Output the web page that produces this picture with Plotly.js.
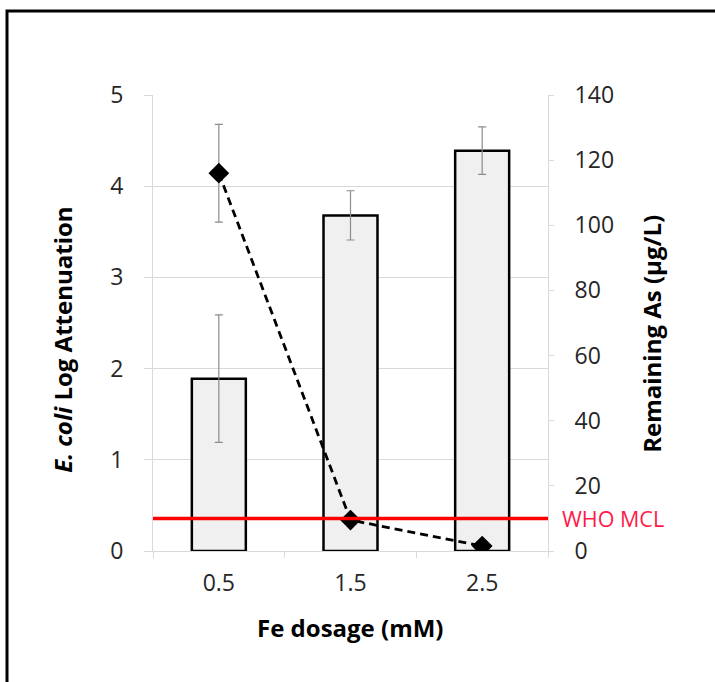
<!DOCTYPE html>
<html>
<head>
<meta charset="utf-8">
<script src="https://cdn.plot.ly/plotly-3.0.1.min.js"></script>
<style>
  html, body { margin: 0; padding: 0; background: #ffffff; }
  #chart { width: 715px; height: 682px; }
</style>
</head>
<body>
<div id="chart"></div>
<script>
// Data
const feDosage = [0.5, 1.5, 2.5];
const feLabels = ['0.5', '1.5', '2.5'];
const logAttenuation = [1.89, 3.68, 4.39];
const logAttenuationErr = [0.70, 0.27, 0.26];
const remainingAs = [116, 9.5, 1.5];
const remainingAsErr = [15, 0, 0];
const whoMcl = 10;
const leftTicks = [0, 1, 2, 3, 4, 5];
const rightTicks = [0, 20, 40, 60, 80, 100, 120, 140];

const FONT = '"Open Sans", "Liberation Sans", sans-serif';
const grid = '#d9d9d9';

const bars = {
  type: 'bar',
  x: feDosage,
  y: logAttenuation,
  width: 0.41,
  marker: { color: '#f0f0f0', line: { color: '#000000', width: 2.5 } },
  error_y: { type: 'data', array: logAttenuationErr, visible: true, color: '#8c8c8c', thickness: 1.2, width: 4 },
  yaxis: 'y',
  showlegend: false,
  hoverinfo: 'skip'
};

const line = {
  type: 'scatter',
  mode: 'lines+markers',
  x: feDosage,
  y: remainingAs,
  yaxis: 'y2',
  line: { color: '#000000', width: 2.8, dash: '8px,5px' },
  marker: { symbol: 'diamond', size: 16, color: '#000000' },
  error_y: { type: 'data', array: remainingAsErr, visible: true, color: '#8c8c8c', thickness: 1.2, width: 4 },
  showlegend: false,
  hoverinfo: 'skip'
};

const layout = {
  width: 715,
  height: 682,
  margin: { l: 153, r: 167, t: 95, b: 131 },
  paper_bgcolor: '#ffffff',
  plot_bgcolor: '#ffffff',
  font: { family: FONT, color: '#262626' },
  showlegend: false,
  xaxis: {
    range: [0, 3],
    tickvals: feDosage,
    ticktext: feLabels,
    ticks: '',
    tickfont: { size: 23, family: FONT, color: '#262626' },
    ticklabelstandoff: 11,
    showgrid: false,
    zeroline: false,
    showline: true,
    linecolor: grid,
    linewidth: 1,
    minor: { tickvals: [0, 1, 2, 3], ticks: 'outside', ticklen: 6, tickcolor: grid, showgrid: false },
    fixedrange: true
  },
  yaxis: {
    range: [0, 5],
    tickvals: leftTicks,
    ticks: 'outside',
    ticklen: 8,
    tickcolor: grid,
    tickfont: { size: 23, family: FONT, color: '#262626' },
    ticklabelstandoff: 16,
    showgrid: true,
    gridcolor: grid,
    gridwidth: 1,
    zeroline: false,
    showline: true,
    linecolor: grid,
    linewidth: 1,
    fixedrange: true
  },
  yaxis2: {
    range: [0, 140],
    tickvals: rightTicks,
    overlaying: 'y',
    side: 'right',
    ticks: 'outside',
    ticklen: 5,
    tickcolor: grid,
    tickfont: { size: 23, family: FONT, color: '#262626' },
    ticklabelstandoff: 16,
    showgrid: false,
    zeroline: false,
    showline: true,
    linecolor: grid,
    linewidth: 1,
    fixedrange: true
  },
  shapes: [
    {
      type: 'line', xref: 'paper', yref: 'y2',
      x0: 0, x1: 1, y0: whoMcl, y1: whoMcl,
      line: { color: '#ff0000', width: 3.5 }
    },
    {
      type: 'rect', xref: 'paper', yref: 'paper',
      x0: -0.3696, x1: 2, y0: 1.184, y1: -1,
      line: { color: '#000000', width: 3 },
      fillcolor: 'rgba(0,0,0,0)'
    }
  ],
  annotations: [
    {
      xref: 'paper', yref: 'paper', x: 0.5, y: -0.168,
      xanchor: 'center', yanchor: 'middle', showarrow: false,
      text: '<b>Fe dosage (mM)</b>',
      font: { size: 24, family: FONT, color: '#000000' }
    },
    {
      xref: 'paper', yref: 'paper', x: -0.228, y: 0.463,
      xanchor: 'center', yanchor: 'middle', showarrow: false, textangle: -90,
      text: '<b><i>E. coli</i> Log Attenuation</b>',
      font: { size: 24, family: FONT, color: '#000000' }
    },
    {
      xref: 'paper', yref: 'paper', x: 1.263, y: 0.476,
      xanchor: 'center', yanchor: 'middle', showarrow: false, textangle: -90,
      text: '<b>Remaining As (µg/L)</b>',
      font: { size: 24, family: FONT, color: '#000000' }
    },
    {
      xref: 'paper', yref: 'y2', x: 1.03, y: whoMcl,
      xanchor: 'left', yanchor: 'middle', showarrow: false,
      text: 'WHO MCL',
      font: { size: 21.5, family: FONT, color: '#ff1a4a' }
    }
  ]
};

Plotly.newPlot('chart', [bars, line], layout, { displayModeBar: false, staticPlot: true });
</script>
</body>
</html>
